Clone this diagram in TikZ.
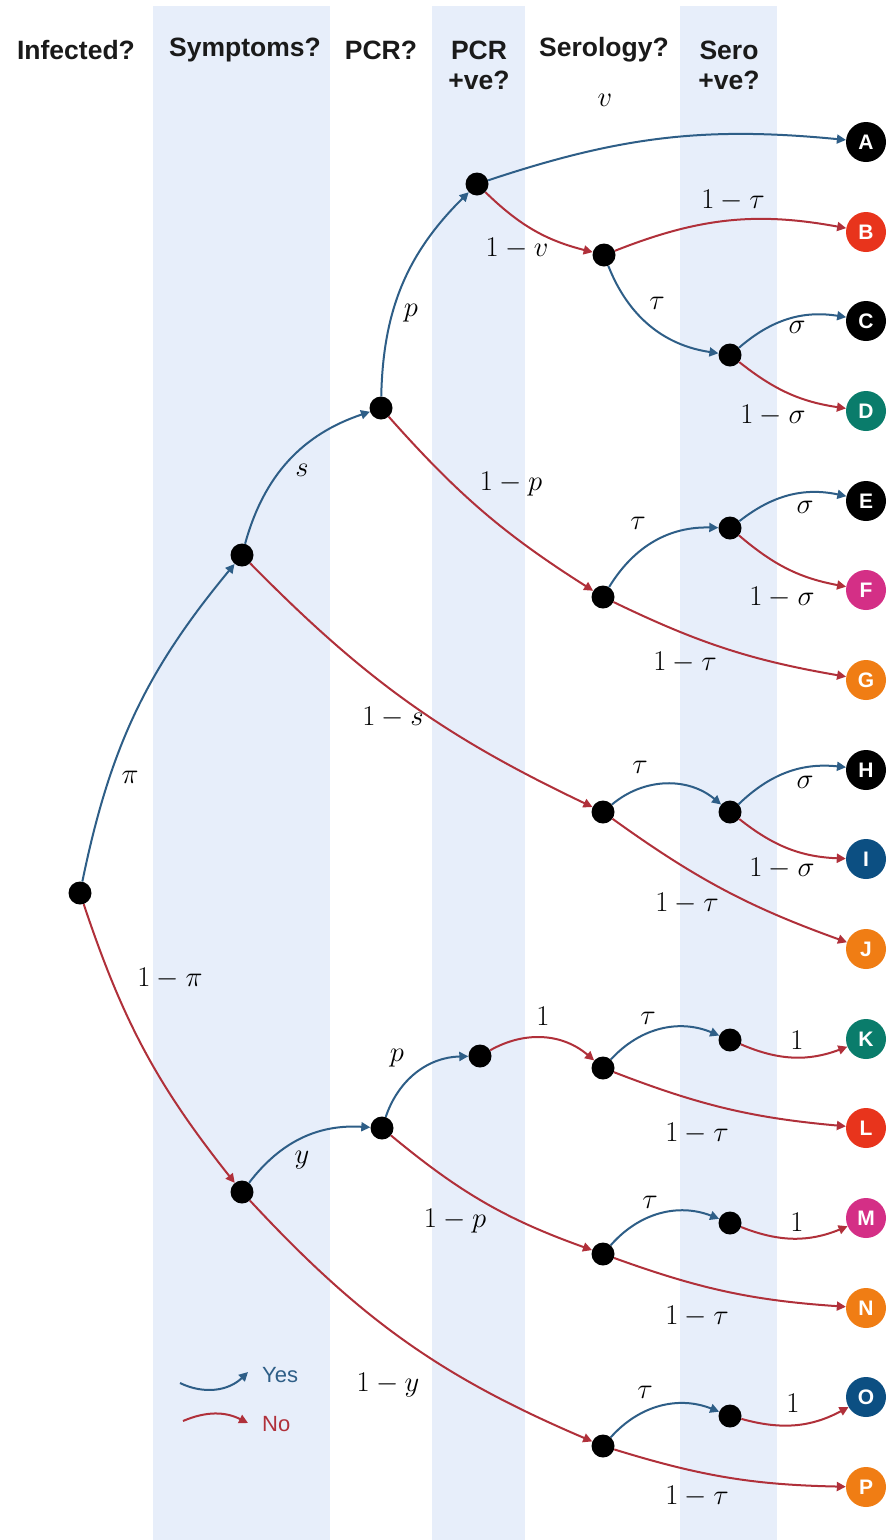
\documentclass[tikz,border=0pt]{standalone}
\usepackage{fontspec}
\setsansfont{Liberation Sans}
\usetikzlibrary{arrows.meta}
\definecolor{bandcol}{HTML}{E7EEFA}
\definecolor{yescol}{HTML}{2E5E87}
\definecolor{nocol}{HTML}{B0303A}
\definecolor{lred}{HTML}{E8341C}
\definecolor{lteal}{HTML}{0A7C6B}
\definecolor{lmag}{HTML}{D42F86}
\definecolor{lorange}{HTML}{F07D14}
\definecolor{lblue}{HTML}{0C4F82}
\definecolor{hdrcol}{HTML}{1A1A1A}
\tikzset{
  dot/.style={circle, fill=black, inner sep=0pt, minimum size=23pt},
  leaf/.style={circle, fill=#1, inner sep=0pt, minimum size=40pt, text=white,
    font=\sffamily\bfseries\fontsize{21}{24}\selectfont},
  yes/.style={draw=yescol, line width=2pt, -{Triangle[length=9pt,width=9pt]}},
  no/.style={draw=nocol, line width=2pt, -{Triangle[length=9pt,width=9pt]}},
  lbl/.style={inner sep=0pt, font=\fontsize{24.88}{28}\selectfont, scale=1.15, transform shape},
  hdr/.style={inner sep=0pt, align=center, text=hdrcol,
    font=\sffamily\bfseries\fontsize{26.5}{30}\selectfont},
  band/.style={fill=bandcol, draw=none},
  legtext/.style={inner sep=0pt, anchor=west, font=\sffamily\fontsize{22}{25}\selectfont}
}
\begin{document}
\begin{tikzpicture}[x=1pt,y=-1pt]
\path[use as bounding box, fill=white] (0,0) rectangle (894,1540);
% bands
\fill[band] (153,6) rectangle (330,1540);
\fill[band] (432,6) rectangle (525,1540);
\fill[band] (680,6) rectangle (777,1540);
% headers
\node[hdr] (h1) at (76,50) {Infected?};
\node[hdr] (h2) at (245,50) {Symptoms?};
\node[hdr] (h3) at (381,50) {PCR?};
\node[hdr] (h4) at (479,65) {PCR\\+ve?};
\node[hdr] (h5) at (604,50) {Serology?};
\node[hdr] (h6) at (729,65) {Sero\\+ve?};
% internal nodes
\node[dot] (R) at (80,893) {};
\node[dot] (S1) at (242,555) {};
\node[dot] (P1) at (381,408) {};
\node[dot] (Q1) at (477,184) {};
\node[dot] (Q1n) at (604,255) {};
\node[dot] (Z1) at (730,355) {};
\node[dot] (P1n) at (603,597) {};
\node[dot] (Z2) at (730,528) {};
\node[dot] (S1n) at (603,812) {};
\node[dot] (Z3) at (730,812) {};
\node[dot] (N1) at (242,1192) {};
\node[dot] (Ny) at (382,1128) {};
\node[dot] (Np) at (480,1056) {};
\node[dot] (Np1) at (603,1068) {};
\node[dot] (Zk) at (730,1040) {};
\node[dot] (N1p) at (603,1254) {};
\node[dot] (Zm) at (730,1223) {};
\node[dot] (Nny) at (603,1446) {};
\node[dot] (Zo) at (730,1416) {};
% leaves
\node[leaf=black] (A) at (866,142) {A};
\node[leaf=lred] (B) at (866,232) {B};
\node[leaf=black] (C) at (866,321) {C};
\node[leaf=lteal] (D) at (866,411) {D};
\node[leaf=black] (E) at (866,501) {E};
\node[leaf=lmag] (F) at (866,590) {F};
\node[leaf=lorange] (G) at (866,680) {G};
\node[leaf=black] (H) at (866,770) {H};
\node[leaf=lblue] (I) at (866,859) {I};
\node[leaf=lorange] (J) at (866,949) {J};
\node[leaf=lteal] (K) at (866,1039) {K};
\node[leaf=lred] (L) at (866,1128) {L};
\node[leaf=lmag] (M) at (866,1218) {M};
\node[leaf=lorange] (N) at (866,1308) {N};
\node[leaf=lblue] (O) at (866,1397) {O};
\node[leaf=lorange] (P) at (866,1487) {P};
% edges: infected branch
\draw[yes] (R) to[bend left=14] (S1);
\draw[yes] (S1) to[bend left=28] (P1);
\draw[yes] (P1) to[bend left=22] (Q1);
\draw[yes] (Q1) to[bend left=12] (A);
\draw[no] (Q1) to[bend right=15] (Q1n);
\draw[no] (Q1n) to[bend left=16] (B);
\draw[yes] (Q1n) to[bend right=30] (Z1);
\draw[yes] (Z1) to[bend left=25] (C);
\draw[no] (Z1) to[bend right=15] (D);
\draw[no] (P1) to[bend right=8] (P1n);
\draw[yes] (P1n) to[bend left=30] (Z2);
\draw[yes] (Z2) to[bend left=25] (E);
\draw[no] (Z2) to[bend right=15] (F);
\draw[no] (P1n) to[bend right=8] (G);
\draw[no] (S1) to[bend right=10] (S1n);
\draw[yes] (S1n) to[bend left=40] (Z3);
\draw[yes] (Z3) to[bend left=25] (H);
\draw[no] (Z3) to[bend right=18] (I);
\draw[no] (S1n) to[bend right=8] (J);
% edges: not infected branch
\draw[no] (R) to[bend right=10] (N1);
\draw[yes] (N1) to[bend left=28] (Ny);
\draw[yes] (Ny) to[bend left=35] (Np);
\draw[no] (Np) to[bend left=35] (Np1);
\draw[yes] (Np1) to[bend left=35] (Zk);
\draw[no] (Zk) to[bend right=22] (K);
\draw[no] (Np1) to[bend right=8] (L);
\draw[no] (Ny) to[bend right=10] (N1p);
\draw[yes] (N1p) to[bend left=35] (Zm);
\draw[no] (Zm) to[bend right=22] (M);
\draw[no] (N1p) to[bend right=8] (N);
\draw[no] (N1) to[bend right=12] (Nny);
\draw[yes] (Nny) to[bend left=35] (Zo);
\draw[no] (Zo) to[bend right=22] (O);
\draw[no] (Nny) to[bend right=8] (P);
% labels
\node[lbl] (l1) at (130,777) {$\pi$};
\node[lbl] (l2) at (170,978) {$1-\pi$};
\node[lbl] (l3) at (302,470) {$s$};
\node[lbl] (l4) at (393,717) {$1-s$};
\node[lbl] (l5) at (411,313) {$p$};
\node[lbl] (l6) at (511,484) {$1-p$};
\node[lbl] (l7) at (605,100) {$v$};
\node[lbl] (l8) at (517,248) {$1-v$};
\node[lbl] (l9) at (733,200) {$1-\tau$};
\node[lbl] (l10) at (657,303) {$\tau$};
\node[lbl] (l11) at (797,327) {$\sigma$};
\node[lbl] (l12) at (773,415) {$1-\sigma$};
\node[lbl] (l13) at (638,523) {$\tau$};
\node[lbl] (l14) at (805,507) {$\sigma$};
\node[lbl] (l15) at (782,597) {$1-\sigma$};
\node[lbl] (l16) at (685,662) {$1-\tau$};
\node[lbl] (l17) at (640,767) {$\tau$};
\node[lbl] (l18) at (805,782) {$\sigma$};
\node[lbl] (l19) at (782,868) {$1-\sigma$};
\node[lbl] (l20) at (687,903) {$1-\tau$};
\node[lbl] (l21) at (302,1160) {$y$};
\node[lbl] (l22) at (397,1058) {$p$};
\node[lbl] (l23) at (543,1016) {$1$};
\node[lbl] (l24) at (648,1018) {$\tau$};
\node[lbl] (l25) at (797,1040) {$1$};
\node[lbl] (l26) at (697,1133) {$1-\tau$};
\node[lbl] (l27) at (455,1221) {$1-p$};
\node[lbl] (l28) at (650,1202) {$\tau$};
\node[lbl] (l29) at (797,1222) {$1$};
\node[lbl] (l30) at (697,1316) {$1-\tau$};
\node[lbl] (l31) at (388,1385) {$1-y$};
\node[lbl] (l32) at (645,1392) {$\tau$};
\node[lbl] (l33) at (793,1403) {$1$};
\node[lbl] (l34) at (697,1496) {$1-\tau$};
% legend
\coordinate (ly1) at (180,1383);
\coordinate (ly2) at (248,1372);
\coordinate (ln1) at (183,1421);
\coordinate (ln2) at (248,1423);
\draw[yes] (ly1) to[bend right=35] (ly2);
\draw[no] (ln1) to[bend left=25] (ln2);
\node[legtext, text=yescol] (ty) at (262,1375) {Yes};
\node[legtext, text=nocol] (tn) at (262,1424) {No};
\end{tikzpicture}
\end{document}
